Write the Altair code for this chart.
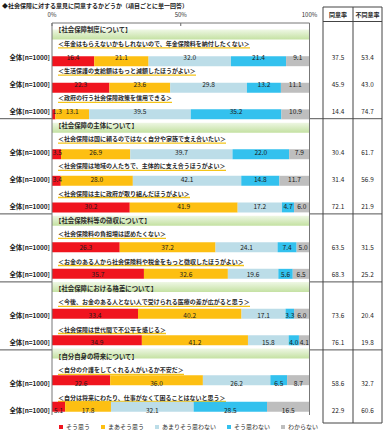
import altair as alt
import pandas as pd

# ---------------- data ----------------
title_text = "◆社会保障に対する意見に同意するかどうか（項目ごとに単一回答）"
sections = [
    "【社会保障制度について】",
    "【社会保障の主体について】",
    "【社会保険料等の徴収について】",
    "【社会保障における格差について】",
    "【自分自身の将来について】",
]
section_sizes = [3, 3, 2, 2, 2]
items = [
    "＜年金はもらえないかもしれないので、年金保険料を納付したくない＞",
    "＜生活保護の支給額はもっと減額したほうがよい＞",
    "＜政府の行う社会保障政策を信用できる＞",
    "＜社会保障は国に頼るのではなく自分や家族で支え合いたい＞",
    "＜社会保障は地域の人たちで、主体的に支え合うほうがよい＞",
    "＜社会保障は主に政府が取り組んだほうがよい＞",
    "＜社会保険料の負担増は認めたくない＞",
    "＜お金のある人から社会保険料や税金をもっと徴収したほうがよい＞",
    "＜今後、お金のある人とない人で受けられる医療の差が広がると思う＞",
    "＜社会保障は世代間で不公平を感じる＞",
    "＜自分の介護をしてくれる人がいるか不安だ＞",
    "＜自分は将来にわたり、仕事がなくて困ることはないと思う＞",
]
row_label = "全体[n=1000]"
categories = ["そう思う", "まあそう思う", "あまりそう思わない", "そう思わない", "わからない"]
sou_omou = [16.4, 22.3, 1.3, 3.5, 3.4, 30.2, 26.3, 35.7, 33.4, 34.9, 22.6, 5.1]
maa_sou_omou = [21.1, 23.6, 13.1, 26.9, 28.0, 41.9, 37.2, 32.6, 40.2, 41.2, 36.0, 17.8]
amari_omowanai = [32.0, 29.8, 39.5, 39.7, 42.1, 17.2, 24.1, 19.6, 17.1, 15.8, 26.2, 32.1]
sou_omowanai = [21.4, 13.2, 35.2, 22.0, 14.8, 4.7, 7.4, 5.6, 3.3, 4.0, 6.5, 28.5]
wakaranai = [9.1, 11.1, 10.9, 7.9, 11.7, 6.0, 5.0, 6.5, 6.0, 4.1, 8.7, 16.5]
agree_rate = [37.5, 45.9, 14.4, 30.4, 31.4, 72.1, 63.5, 68.3, 73.6, 76.1, 58.6, 22.9]
disagree_rate = [53.4, 43.0, 74.7, 61.7, 56.9, 21.9, 31.5, 25.2, 20.4, 19.8, 32.7, 60.6]
tick_values = [0, 50, 100]
tick_labels = ["0%", "50%", "100%"]
table_headers = ["同意率", "不同意率"]

# ---------------- layout ----------------
W, H = 384, 439
X0, X100 = 52, 309.5
unit = (X100 - X0) / 100.0
Y_FIRST, STEP = 30.3, 13.6
FONT = "Noto Sans CJK JP"
colors = ["#F0141E", "#FDBF12", "#BCDDE8", "#33C1EE", "#BEBEBE"]

xs = alt.Scale(domain=[-X0 / unit, (W - X0) / unit], nice=False, zero=False)
ys = alt.Scale(domain=[-Y_FIRST / STEP, (H - Y_FIRST) / STEP], nice=False, zero=False, reverse=True)
px_x = alt.Scale(domain=[0, W], range=[0, W])
px_y = alt.Scale(domain=[0, H], range=[0, H])

series = [sou_omou, maa_sou_omou, amari_omowanai, sou_omowanai, wakaranai]

head_rows, sub_rows, bar_rows, sep_rows = [], [], [], []
s, k = 0, 0
for sec, n in zip(sections, section_sizes):
    head_rows.append({"slot": s, "text": sec, "x0": 0, "x1": 100})
    for j in range(n):
        sub_start = (58 - X0) / unit
        sub_rows.append({"slot": s + 1 + 2 * j, "text": items[k], "xs": sub_start,
                         "xe": sub_start + len(items[k]) * 6.0 / unit})
        bar_rows.append({"slot": s + 2 + 2 * j, "k": k, "label": row_label,
                         "agree": f"{agree_rate[k]:.1f}", "disagree": f"{disagree_rate[k]:.1f}"})
        k += 1
    s += 1 + 2 * n
    sep_rows.append({"slot": s - 0.5})
sep_rows = sep_rows[:-1]

seg_rows = []
for br in bar_rows:
    start = 0.0
    for ci, cat in enumerate(categories):
        v = series[ci][br["k"]]
        mid = max(start + v / 2, 2.1)
        seg_rows.append({"slot": br["slot"], "cat": cat, "order": ci, "start": start,
                         "end": start + v, "mid": mid, "lab": f"{v:.1f}"})
        start += v

heads = pd.DataFrame(head_rows)
subs = pd.DataFrame(sub_rows)
bars = pd.DataFrame(bar_rows)
segs = pd.DataFrame(seg_rows)
seps = pd.DataFrame(sep_rows)
ticks = pd.DataFrame({"v": tick_values, "t": tick_labels})
one = pd.DataFrame({"t": [title_text]})

green = alt.Gradient(
    gradient="linear",
    stops=[alt.GradientStop(color="#EEF7E4", offset=0), alt.GradientStop(color="#C4E1A2", offset=1)],
    x1=0, x2=0, y1=0, y2=1,
)


def Y(f="slot"):
    return alt.Y(f"{f}:Q", scale=ys, axis=None)


header_bg = alt.Chart(heads).mark_bar(orient="horizontal", size=10, color=green).encode(
    x=alt.X("x0:Q", scale=xs, axis=None), x2="x1:Q", y=Y())
header_txt = alt.Chart(heads).mark_text(align="left", baseline="middle", font=FONT, fontSize=6.4,
                                        fontWeight="bold", color="#2a2a2a").encode(
    x=alt.value(55), y=Y(), text="text:N")

underline = alt.Chart(subs).mark_rule(color="#F5C518", strokeWidth=1.3, yOffset=4).encode(
    x=alt.X("xs:Q", scale=xs, axis=None), x2="xe:Q", y=Y())
sub_txt = alt.Chart(subs).mark_text(align="left", baseline="middle", font=FONT, fontSize=6,
                                    fontWeight="bold", color="#2a2a2a").encode(
    x=alt.value(58), y=Y(), text="text:N")

bar_layer = alt.Chart(segs).mark_bar(orient="horizontal", size=10).encode(
    x=alt.X("start:Q", scale=xs, axis=None), x2="end:Q", y=Y(),
    color=alt.Color("cat:N", scale=alt.Scale(domain=categories, range=colors),
                    legend=alt.Legend(orient="none", legendX=58, legendY=424, direction="horizontal",
                                      title=None, symbolType="square", symbolSize=16,
                                      symbolStrokeWidth=0, labelFont=FONT, labelFontSize=6,
                                      labelColor="#2a2a2a", columnPadding=9, labelOffset=2,
                                      symbolOffset=0, padding=0)),
    order="order:Q")
seg_txt = alt.Chart(segs).mark_text(baseline="middle", font=FONT, fontSize=6.6, color="#1a1a1a").encode(
    x=alt.X("mid:Q", scale=xs, axis=None), y=Y(), text="lab:N")

left_lab = alt.Chart(bars).mark_text(align="right", baseline="middle", font=FONT, fontSize=6.4,
                                     fontWeight="bold", color="#1a1a1a").encode(
    x=alt.value(50), y=Y(), text="label:N")
agree_txt = alt.Chart(bars).mark_text(baseline="middle", font=FONT, fontSize=6.4, color="#1a1a1a").encode(
    x=alt.value(338), y=Y(), text="agree:N")
disagree_txt = alt.Chart(bars).mark_text(baseline="middle", font=FONT, fontSize=6.4, color="#1a1a1a").encode(
    x=alt.value(367.5), y=Y(), text="disagree:N")

title_layer = alt.Chart(one).mark_text(align="left", baseline="middle", font=FONT, fontSize=6,
                                       fontWeight="bold", color="#1a1a1a").encode(
    x=alt.value(2), y=alt.value(6), text="t:N")
tick_txt = alt.Chart(ticks).mark_text(baseline="middle", font=FONT, fontSize=6, color="#333").encode(
    x=alt.X("v:Q", scale=xs, axis=None), y=alt.value(15), text="t:N")
tick_marks = alt.Chart(ticks).mark_rule(color="#666", strokeWidth=1).encode(
    x=alt.X("v:Q", scale=xs, axis=None), y=alt.value(23), y2=alt.value(26))

frame_top = alt.Chart(pd.DataFrame({"a": [0], "b": [100]})).mark_rule(color="#777").encode(
    x=alt.X("a:Q", scale=xs, axis=None), x2="b:Q", y=alt.value(23))
frame_sides = alt.Chart(pd.DataFrame({"a": [0, 100]})).mark_rule(color="#777").encode(
    x=alt.X("a:Q", scale=xs, axis=None), y=alt.value(23), y2=alt.value(415))

sep_left = alt.Chart(seps).mark_rule(color="#555").encode(
    x=alt.value(0), x2=alt.value(52), y=Y())
sep_right = alt.Chart(seps).mark_rule(color="#555").encode(
    x=alt.value(309.5), x2=alt.value(382), y=Y())

tab_v = alt.Chart(pd.DataFrame({"px": [323, 353, 382]})).mark_rule(color="#444").encode(
    x=alt.X("px:Q", scale=px_x, axis=None), y=alt.value(7), y2=alt.value(423))
tab_h = alt.Chart(pd.DataFrame({"py": [7, 21.5, 423]})).mark_rule(color="#444").encode(
    x=alt.value(323), x2=alt.value(382), y=alt.Y("py:Q", scale=px_y, axis=None))
tab_head = alt.Chart(pd.DataFrame({"t": table_headers, "px": [338, 367.5]})).mark_text(
    baseline="middle", font=FONT, fontSize=6, fontWeight="bold", color="#1a1a1a").encode(
    x=alt.X("px:Q", scale=px_x, axis=None), y=alt.value(14.5), text="t:N")

chart = alt.layer(
    sep_left, sep_right, tab_v, tab_h, tab_head,
    header_bg, header_txt, underline, sub_txt,
    bar_layer, seg_txt, left_lab, agree_txt, disagree_txt,
    title_layer, tick_txt, tick_marks, frame_top, frame_sides,
).resolve_scale(x="independent", y="independent").properties(
    width=W, height=H, padding=0, autosize=alt.AutoSizeParams(type="none"), background="white"
).configure_view(stroke=None)

chart.save("out.html", embed_options={"renderer": "svg", "actions": False})
